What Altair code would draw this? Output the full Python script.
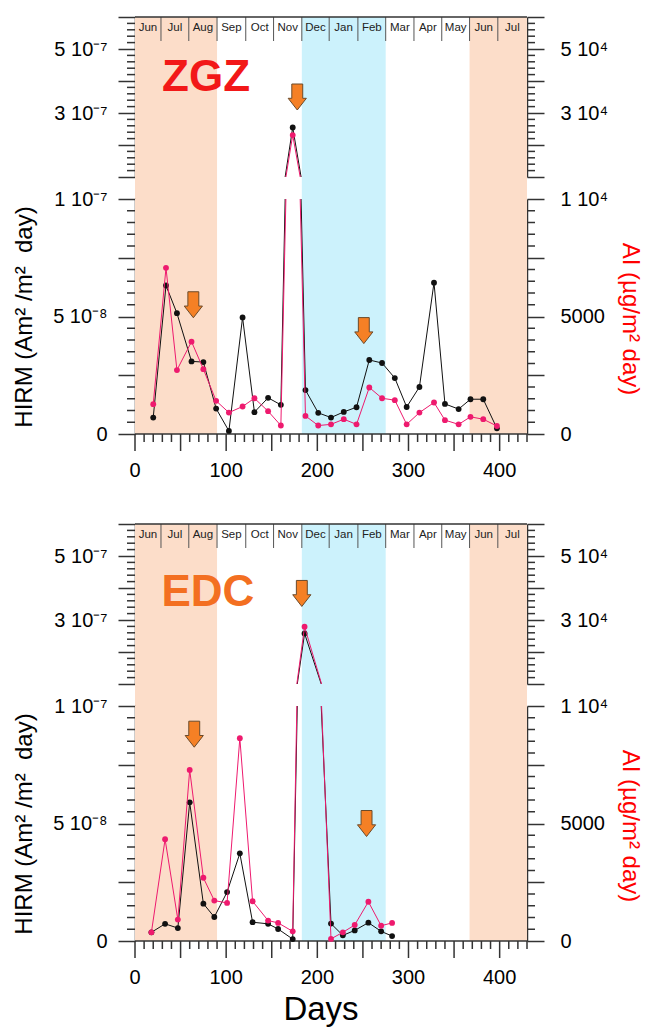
import altair as alt
import pandas as pd

FONT = "Liberation Sans"
AXIS_COLOR = "#333333"
PINK = "#EE1A6E"
BLACK = "#111111"

# Sampling days (days after 1 June), HIRM flux (Am2/m2 day) and dust flux AI (ug/m2 day)
zgz_day = [20, 34, 46, 62, 75, 89, 103, 118, 131, 146, 160, 173, 187, 201,
           215, 229, 243, 257, 271, 285, 298, 312, 328, 340, 355, 368, 382, 397]
zgz_hirm = [7.0e-9, 6.32e-8, 5.14e-8, 3.09e-8, 3.06e-8, 1.08e-8, 1.3e-9, 4.96e-8,
            9.3e-9, 1.54e-8, 1.24e-8, 2.55e-7, 1.87e-8, 9.0e-9, 7.0e-9, 9.4e-9,
            1.14e-8, 3.15e-8, 3.02e-8, 2.38e-8, 1.15e-8, 2.0e-8, 6.44e-8, 1.28e-8,
            1.06e-8, 1.48e-8, 1.48e-8, 2.4e-9]
zgz_ai = [1270, 7070, 2720, 3930, 2760, 1410, 910, 1170, 1520, 970, 360, 23100, 770, 360,
          410, 630, 410, 1980, 1520, 1440, 410, 910, 1340, 590, 410, 730, 630, 340]

edc_day = [18, 33, 47, 60, 75, 87, 101, 115, 129, 146, 157, 173, 186, 215, 228, 241, 256, 270, 282]
edc_hirm = [3.7e-9, 7.3e-9, 5.5e-9, 5.90e-8, 1.59e-8, 1.02e-8, 2.08e-8, 3.73e-8, 8.0e-9,
            7.3e-9, 5.1e-9, 8.0e-10, 2.58e-7, 7.4e-9, 2.4e-9, 4.5e-9, 7.8e-9, 4.1e-9, 2.1e-9]
edc_ai = [370, 4330, 910, 7280, 2690, 1720, 1620, 8630, 1690, 870, 770, 410, 27900,
          90, 370, 680, 1670, 650, 770]

# Dust events flagged with arrows (day, height on the HIRM axis)
zgz_arrow_day = [64, 178, 251]
zgz_arrow_hirm = [5.5e-8, 3.5e-7, 4.4e-8]
edc_arrow_day = [65, 183, 254]
edc_arrow_hirm = [8.8e-8, 3.83e-7, 5.0e-8]

month_names = ["Jun", "Jul", "Aug", "Sep", "Oct", "Nov", "Dec",
               "Jan", "Feb", "Mar", "Apr", "May", "Jun", "Jul"]
month_start = [0, 28.5, 59, 90, 121.5, 152, 183, 213, 244.5, 275, 306, 336.5, 367, 398]

season_start = [0, 183, 367]
season_end = [90, 275, 430]
season_color = ["#FCDDC9", "#CCF2FC", "#FCDDC9"]

day_ticks = [0, 50, 100, 150, 200, 250, 300, 350, 400]
day_labels = [0, 100, 200, 300, 400]

X_MAX = 430
W, H_UP, H_GAP, H_LOW, H_SPACE = 392, 160, 22, 235, 90
HIRM_BREAK, HIRM_TOP = 1e-7, 6e-7
AI_PER_HIRM = 1e11
MAJOR, MINOR = 17, 8

ARROW = "M-0.42,-1L0.42,-1L0.42,0.1L0.7,0.1L0,1L-0.7,0.1L-0.42,0.1Z"

seasons = pd.DataFrame({"start": season_start, "end": season_end, "color": season_color})
month_end = month_start[1:] + [X_MAX]
months = pd.DataFrame({
    "name": month_names,
    "start": month_start,
    "mid": [(a + b) / 2 for a, b in zip(month_start, month_end)],
})
span = pd.DataFrame({"a": [0], "b": [X_MAX]})
x_major = pd.DataFrame({"v": day_ticks})
x_labels = pd.DataFrame({"v": day_labels, "t": [str(d) for d in day_labels]})

# minor tick positions (major ones come from the y axes)
x_minor = pd.DataFrame({"v": [d for d in range(0, X_MAX + 1, 10) if d % 50]})
low_minor = pd.DataFrame({"v": [round(i * 5e-9, 12) for i in range(21) if i % 5]})
up_minor = pd.DataFrame({"v": [round((10 + 2 * i) * 1e-8, 12) for i in range(26) if i % 5]})

x_scale = alt.Scale(domain=[0, X_MAX], nice=False, zero=False)


def axis(**kw):
    base = dict(grid=False, domainColor=AXIS_COLOR, tickColor=AXIS_COLOR,
                domainWidth=1.5, tickWidth=1.5, tickSize=MAJOR, labelFont=FONT,
                labelFontSize=20, labelColor="black", labelOverlap=False, labelFlush=False)
    base.update(kw)
    return alt.Axis(**base)


def xpos(field):
    return alt.X(field, scale=x_scale, axis=None)


def shade():
    return alt.Chart(seasons).mark_rect().encode(
        x=xpos("start:Q"), x2="end:Q", color=alt.Color("color:N", scale=None))


def hline(ypix):
    return alt.Chart(span).mark_rule(color=AXIS_COLOR, strokeWidth=1.5).encode(
        x=xpos("a:Q"), x2="b:Q", y=alt.value(ypix))


def y_minor_ticks(ticks, ys):
    yenc = alt.Y("v:Q", scale=ys, axis=None)
    left = alt.Chart(ticks).mark_rule(color=AXIS_COLOR, strokeWidth=1.5).encode(
        x=alt.value(-MINOR), x2=alt.value(0), y=yenc)
    right = alt.Chart(ticks).mark_rule(color=AXIS_COLOR, strokeWidth=1.5).encode(
        x=alt.value(W), x2=alt.value(W + MINOR), y=yenc)
    return [left, right]


def series_layers(df, ys, ais, left_axis, right_axis, keep):
    bline = alt.Chart(df).mark_line(color=BLACK, strokeWidth=1, clip=True).encode(
        x=xpos("day:Q"), y=alt.Y("hirm:Q", scale=ys, axis=left_axis))
    bpts = alt.Chart(df).mark_circle(size=34, color=BLACK, opacity=1).encode(
        x=xpos("day:Q"), y=alt.Y("hirm:Q", scale=ys, axis=None)
    ).transform_filter(keep.format(f="hirm", v=HIRM_BREAK))
    pline = alt.Chart(df).mark_line(color=PINK, strokeWidth=1, clip=True).encode(
        x=xpos("day:Q"), y=alt.Y("ai:Q", scale=ais, axis=right_axis))
    ppts = alt.Chart(df).mark_circle(size=34, color=PINK, opacity=1).encode(
        x=xpos("day:Q"), y=alt.Y("ai:Q", scale=ais, axis=None)
    ).transform_filter(keep.format(f="ai", v=HIRM_BREAK * AI_PER_HIRM))
    return [bline, bpts, pline, ppts]


def arrow_layer(arrows, ys, keep):
    return alt.Chart(arrows).mark_point(
        shape=ARROW, size=676, filled=True, fill="#F58025", stroke="#6B4A2A",
        strokeWidth=1, opacity=1
    ).encode(x=xpos("day:Q"), y=alt.Y("hirm:Q", scale=ys, axis=None)
             ).transform_filter(keep.format(f="hirm", v=HIRM_BREAK))


def upper_chart(df, arrows, label_df, label_color):
    keep = "datum.{f} > {v}"
    ys = alt.Scale(domain=[HIRM_BREAK, HIRM_TOP], nice=False, zero=False)
    ais = alt.Scale(domain=[HIRM_BREAK * AI_PER_HIRM, HIRM_TOP * AI_PER_HIRM], nice=False, zero=False)
    left_axis = axis(
        orient="left", title=None, labelPadding=11,
        values=[1e-7, 2e-7, 3e-7, 4e-7, 5e-7, 6e-7],
        labelExpr="round(datum.value*1e9) === 300 ? '3 10⁻⁷' : "
                  "round(datum.value*1e9) === 500 ? '5 10⁻⁷' : ''")
    right_axis = axis(
        orient="right", title=None, labelPadding=16,
        values=[10000, 20000, 30000, 40000, 50000, 60000],
        labelExpr="datum.value === 30000 ? '3 10⁴' : datum.value === 50000 ? '5 10⁴' : ''")

    seps = alt.Chart(months).mark_rule(color="#555555", strokeWidth=1).encode(
        x=xpos("start:Q"), y=alt.value(0), y2=alt.value(24)
    ).transform_filter("datum.start > 0")
    mlabels = alt.Chart(months).mark_text(
        font=FONT, fontSize=11.5, color="#222222", baseline="middle"
    ).encode(x=xpos("mid:Q"), y=alt.value(11), text="name:N")
    lab = alt.Chart(label_df).mark_text(
        font=FONT, fontWeight="bold", fontSize=44, color=label_color, baseline="middle"
    ).encode(x=xpos("day:Q"), y=alt.Y("hirm:Q", scale=ys, axis=None), text="name:N")

    layers = [shade(), seps, mlabels, hline(0)] + y_minor_ticks(up_minor, ys)
    layers += [arrow_layer(arrows, ys, keep), lab]
    layers += series_layers(df, ys, ais, left_axis, right_axis, keep)
    return alt.layer(*layers).resolve_scale(y="independent").properties(width=W, height=H_UP)


def lower_chart(df, arrows, days_title):
    keep = "datum.{f} <= {v}"
    ys = alt.Scale(domain=[0, HIRM_BREAK], nice=False, zero=False)
    ais = alt.Scale(domain=[0, HIRM_BREAK * AI_PER_HIRM], nice=False, zero=False)

    left_axis = axis(
        orient="left", values=[0, 2.5e-8, 5e-8, 7.5e-8, 1e-7],
        labelExpr="round(datum.value*1e9) === 0 ? '0' : "
                  "round(datum.value*1e9) === 50 ? '5 10⁻⁸' : "
                  "round(datum.value*1e9) === 100 ? '1 10⁻⁷' : ''",
        labelPadding=11,
        title="HIRM (Am² /m²\u00a0 day)", titleFont=FONT, titleFontSize=24,
        titleFontWeight="normal", titleColor="black", titleAngle=270,
        titleX=-104, titleY=H_LOW / 2, titleAlign="center", titleBaseline="alphabetic")
    right_axis = axis(
        orient="right", values=[0, 2500, 5000, 7500, 10000],
        labelExpr="datum.value === 0 ? '0' : datum.value === 5000 ? '5000' : "
                  "datum.value === 10000 ? '1 10⁴' : ''",
        labelPadding=16,
        title="AI (µg/m² day)", titleFont=FONT, titleFontSize=24,
        titleFontWeight="normal", titleColor="#FF0000", titleAngle=90,
        titleX=95, titleY=H_LOW / 2 + 2, titleAlign="center", titleBaseline="alphabetic")

    rule = dict(color=AXIS_COLOR, strokeWidth=1.5)
    xmin_ticks = alt.Chart(x_minor).mark_rule(**rule).encode(
        x=xpos("v:Q"), y=alt.value(H_LOW), y2=alt.value(H_LOW + MINOR))
    xmaj_ticks = alt.Chart(x_major).mark_rule(**rule).encode(
        x=xpos("v:Q"), y=alt.value(H_LOW), y2=alt.value(H_LOW + MAJOR))
    xlabs = alt.Chart(x_labels).mark_text(
        font=FONT, fontSize=20, color="black", baseline="top"
    ).encode(x=xpos("v:Q"), y=alt.value(H_LOW + MAJOR + 10), text="t:N")

    layers = [shade(), hline(H_LOW), xmin_ticks, xmaj_ticks, xlabs]
    layers += y_minor_ticks(low_minor, ys)
    if days_title:
        layers.append(alt.Chart(span).mark_text(
            font=FONT, fontSize=33, color="black", baseline="alphabetic", text="Days"
        ).encode(x=alt.value(186), y=alt.value(H_LOW + 79)))
    layers += [arrow_layer(arrows, ys, keep)]
    layers += series_layers(df, ys, ais, left_axis, right_axis, keep)
    return alt.layer(*layers).resolve_scale(y="independent").properties(width=W, height=H_LOW)


def gap_chart():
    return shade().properties(width=W, height=H_GAP)


zgz = pd.DataFrame({"day": zgz_day, "hirm": zgz_hirm, "ai": zgz_ai})
edc = pd.DataFrame({"day": edc_day, "hirm": edc_hirm, "ai": edc_ai})
zgz_arrows = pd.DataFrame({"day": zgz_arrow_day, "hirm": zgz_arrow_hirm})
edc_arrows = pd.DataFrame({"day": edc_arrow_day, "hirm": edc_arrow_hirm})
zgz_label = pd.DataFrame({"day": [78], "hirm": [4.1e-7], "name": ["ZGZ"]})
edc_label = pd.DataFrame({"day": [80], "hirm": [3.85e-7], "name": ["EDC"]})

spacer = alt.Chart(seasons).mark_rect(opacity=0).encode(
    x=xpos("start:Q"), x2="end:Q").properties(width=W, height=H_SPACE)

chart = alt.vconcat(
    upper_chart(zgz, zgz_arrows, zgz_label, "#F21818"),
    gap_chart(),
    lower_chart(zgz, zgz_arrows, False),
    spacer,
    upper_chart(edc, edc_arrows, edc_label, "#F36F21"),
    gap_chart(),
    lower_chart(edc, edc_arrows, True),
    spacing=0, bounds="flush",
).properties(
    padding={"left": 11, "top": 6, "right": 0, "bottom": 0}
).configure(font=FONT, view=alt.ViewConfig(stroke="transparent"))

chart.save("out.html", embed_options={"renderer": "svg", "actions": False})
